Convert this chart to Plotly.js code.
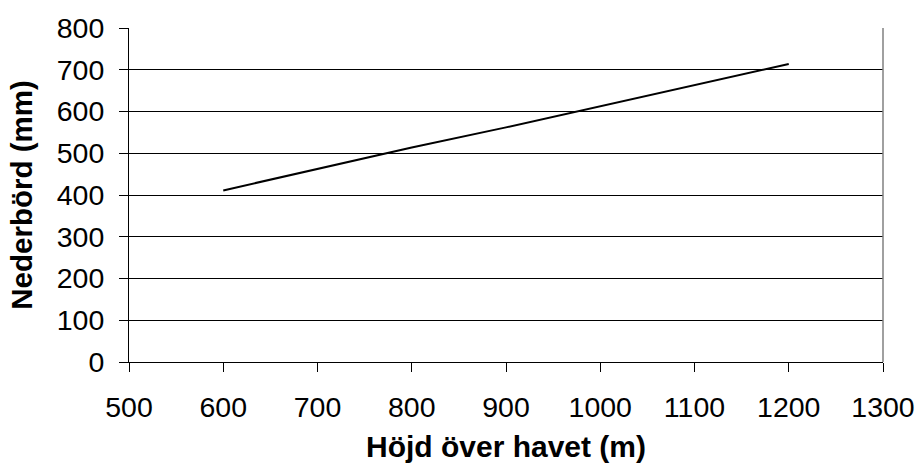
<!DOCTYPE html>
<html>
<head>
<meta charset="utf-8">
<script src="https://cdn.plot.ly/plotly-3.0.1.min.js"></script>
<style>html,body{margin:0;padding:0;background:#fff;}#chart{width:918px;height:463px;}</style>
</head>
<body>
<div id="chart"></div>
<script>
const altitude = [600, 700, 800, 900, 1000, 1100, 1200];
const precipitation = [411, 463, 514, 562, 613, 663, 714];
const xTickValues = [500, 600, 700, 800, 900, 1000, 1100, 1200, 1300];
const yTickValues = [0, 100, 200, 300, 400, 500, 600, 700, 800];
const xTitle = "Höjd över havet (m)";
const yTitle = "Nederbörd (mm)";

const font = "Liberation Sans, Arial, sans-serif";

const trace = {
  x: altitude,
  y: precipitation,
  type: "scatter",
  mode: "lines",
  line: {color: "#000", width: 2},
  hoverinfo: "skip"
};

const layout = {
  width: 918,
  height: 463,
  margin: {l: 129, r: 35, t: 28, b: 101, pad: 0},
  paper_bgcolor: "#fff",
  plot_bgcolor: "#fff",
  showlegend: false,
  font: {family: font, color: "#000", size: 28},
  xaxis: {
    range: [500, 1300],
    tickvals: xTickValues,
    ticktext: xTickValues.map(String),
    showgrid: false,
    zeroline: false,
    showline: true,
    linecolor: "#000",
    linewidth: 1,
    ticks: "outside",
    ticklen: 9,
    tickcolor: "#000",
    tickfont: {family: font, size: 28.5, color: "#000"},
    ticklabelstandoff: 11,
    title: {text: xTitle, font: {family: font, size: 30, color: "#000", weight: "bold"}, standoff: 13}
  },
  yaxis: {
    range: [0, 800],
    tickvals: yTickValues,
    ticktext: yTickValues.map(String),
    showgrid: true,
    gridcolor: "#000",
    gridwidth: 1,
    zeroline: false,
    showline: true,
    linecolor: "#000",
    linewidth: 1,
    ticks: "outside",
    ticklen: 9,
    tickcolor: "#000",
    tickfont: {family: font, size: 28.5, color: "#000"},
    ticklabelstandoff: 9,
    title: {text: yTitle, font: {family: font, size: 29.5, color: "#000", weight: "bold"}, standoff: 15}
  },
  shapes: [{
    type: "line", xref: "paper", yref: "paper",
    x0: 1, x1: 1, y0: 0, y1: 1,
    line: {color: "#808080", width: 1.5}
  }]
};

Plotly.newPlot("chart", [trace], layout, {staticPlot: true, displayModeBar: false});
</script>
</body>
</html>
